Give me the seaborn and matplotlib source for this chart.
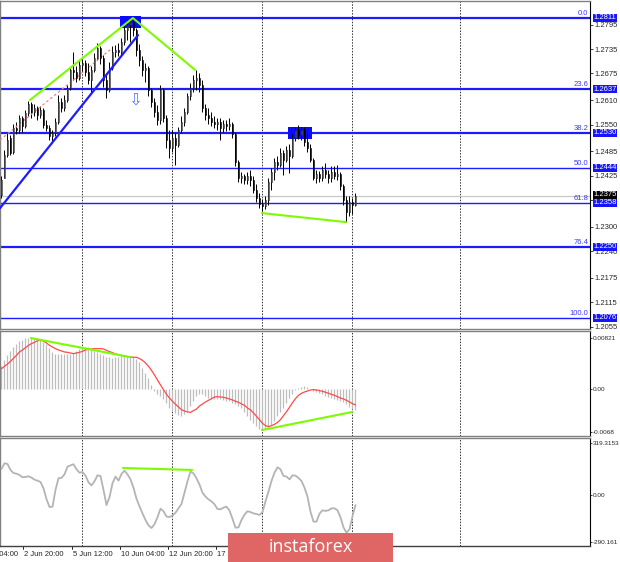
import numpy as np
import pandas as pd
import matplotlib
matplotlib.use('Agg')
import matplotlib.pyplot as plt
import matplotlib.transforms as transforms
from matplotlib.patches import Rectangle
import seaborn as sns

sns.set_style('white')
plt.rcParams['font.family'] = ['Liberation Sans', 'DejaVu Sans']

# H4 candles (29 May .. 29 Jun)
opens = [1.2377, 1.2419, 1.2475, 1.2517, 1.2483, 1.2541, 1.2537, 1.2566, 1.2546, 1.2578,
         1.2600, 1.2581, 1.2590, 1.2573, 1.2586, 1.2549, 1.2541, 1.2522, 1.2529, 1.2556,
         1.2605, 1.2590, 1.2610, 1.2639, 1.2684, 1.2679, 1.2664, 1.2696, 1.2701, 1.2679,
         1.2659, 1.2684, 1.2713, 1.2737, 1.2713, 1.2659, 1.2635, 1.2688, 1.2728, 1.2733,
         1.2728, 1.2752, 1.2782, 1.2794, 1.2801, 1.2782, 1.2733, 1.2708, 1.2684, 1.2688,
         1.2635, 1.2605, 1.2581, 1.2561, 1.2635, 1.2566, 1.2512, 1.2492, 1.2517, 1.2500,
         1.2537, 1.2556, 1.2581, 1.2620, 1.2639, 1.2659, 1.2664, 1.2647, 1.2590, 1.2573,
         1.2566, 1.2556, 1.2551, 1.2556, 1.2541, 1.2551, 1.2546, 1.2551, 1.2527, 1.2458,
         1.2419, 1.2424, 1.2414, 1.2424, 1.2414, 1.2390, 1.2370, 1.2355, 1.2350, 1.2365,
         1.2409, 1.2434, 1.2458, 1.2451, 1.2480, 1.2463, 1.2488, 1.2473, 1.2517, 1.2537,
         1.2524, 1.2537, 1.2507, 1.2492, 1.2463, 1.2419, 1.2429, 1.2419, 1.2439, 1.2429,
         1.2419, 1.2434, 1.2424, 1.2429, 1.2399, 1.2365, 1.2336, 1.2360, 1.2353]
highs = [1.2424, 1.2488, 1.2529, 1.2524, 1.2551, 1.2556, 1.2573, 1.2571, 1.2586, 1.2608,
         1.2605, 1.2600, 1.2595, 1.2595, 1.2590, 1.2561, 1.2549, 1.2537, 1.2566, 1.2622,
         1.2615, 1.2622, 1.2647, 1.2688, 1.2728, 1.2693, 1.2708, 1.2713, 1.2708, 1.2701,
         1.2693, 1.2725, 1.2750, 1.2742, 1.2720, 1.2671, 1.2703, 1.2742, 1.2745, 1.2750,
         1.2762, 1.2791, 1.2806, 1.2811, 1.2806, 1.2786, 1.2747, 1.2718, 1.2701, 1.2693,
         1.2639, 1.2615, 1.2598, 1.2647, 1.2639, 1.2573, 1.2537, 1.2537, 1.2529, 1.2544,
         1.2571, 1.2590, 1.2627, 1.2652, 1.2671, 1.2684, 1.2676, 1.2659, 1.2600, 1.2590,
         1.2581, 1.2571, 1.2566, 1.2566, 1.2561, 1.2561, 1.2566, 1.2556, 1.2532, 1.2463,
         1.2434, 1.2429, 1.2434, 1.2439, 1.2424, 1.2404, 1.2382, 1.2367, 1.2375, 1.2419,
         1.2443, 1.2468, 1.2473, 1.2492, 1.2488, 1.2497, 1.2502, 1.2527, 1.2544, 1.2549,
         1.2544, 1.2544, 1.2527, 1.2502, 1.2468, 1.2439, 1.2436, 1.2448, 1.2456, 1.2439,
         1.2448, 1.2448, 1.2451, 1.2434, 1.2404, 1.2375, 1.2375, 1.2370, 1.2382]
lows = [1.2370, 1.2419, 1.2470, 1.2475, 1.2478, 1.2527, 1.2529, 1.2532, 1.2541, 1.2571,
        1.2566, 1.2571, 1.2561, 1.2566, 1.2541, 1.2534, 1.2512, 1.2507, 1.2522, 1.2551,
        1.2581, 1.2583, 1.2605, 1.2635, 1.2659, 1.2654, 1.2659, 1.2679, 1.2669, 1.2649,
        1.2630, 1.2679, 1.2708, 1.2698, 1.2642, 1.2615, 1.2630, 1.2684, 1.2715, 1.2718,
        1.2720, 1.2745, 1.2757, 1.2752, 1.2767, 1.2718, 1.2693, 1.2669, 1.2654, 1.2620,
        1.2593, 1.2568, 1.2549, 1.2551, 1.2556, 1.2492, 1.2468, 1.2483, 1.2451, 1.2495,
        1.2529, 1.2546, 1.2576, 1.2610, 1.2630, 1.2635, 1.2630, 1.2581, 1.2561, 1.2551,
        1.2546, 1.2541, 1.2537, 1.2512, 1.2532, 1.2534, 1.2537, 1.2517, 1.2448, 1.2409,
        1.2407, 1.2404, 1.2404, 1.2399, 1.2382, 1.2360, 1.2345, 1.2338, 1.2343, 1.2353,
        1.2390, 1.2414, 1.2439, 1.2446, 1.2426, 1.2458, 1.2431, 1.2468, 1.2510, 1.2514,
        1.2512, 1.2497, 1.2483, 1.2458, 1.2414, 1.2407, 1.2409, 1.2412, 1.2419, 1.2407,
        1.2409, 1.2416, 1.2414, 1.2390, 1.2353, 1.2311, 1.2326, 1.2331, 1.2350]
closes = [1.2414, 1.2475, 1.2512, 1.2480, 1.2541, 1.2537, 1.2566, 1.2546, 1.2578, 1.2600,
          1.2581, 1.2590, 1.2573, 1.2586, 1.2549, 1.2541, 1.2522, 1.2529, 1.2556, 1.2605,
          1.2590, 1.2610, 1.2639, 1.2684, 1.2679, 1.2664, 1.2696, 1.2701, 1.2679, 1.2659,
          1.2684, 1.2713, 1.2737, 1.2713, 1.2659, 1.2635, 1.2688, 1.2728, 1.2733, 1.2728,
          1.2752, 1.2782, 1.2794, 1.2801, 1.2782, 1.2733, 1.2708, 1.2684, 1.2688, 1.2635,
          1.2605, 1.2581, 1.2561, 1.2635, 1.2566, 1.2512, 1.2492, 1.2517, 1.2500, 1.2537,
          1.2556, 1.2581, 1.2620, 1.2639, 1.2659, 1.2664, 1.2647, 1.2590, 1.2573, 1.2566,
          1.2556, 1.2551, 1.2556, 1.2541, 1.2551, 1.2546, 1.2551, 1.2527, 1.2458, 1.2419,
          1.2424, 1.2414, 1.2424, 1.2414, 1.2390, 1.2370, 1.2355, 1.2350, 1.2365, 1.2409,
          1.2434, 1.2458, 1.2451, 1.2480, 1.2463, 1.2488, 1.2473, 1.2517, 1.2537, 1.2524,
          1.2537, 1.2507, 1.2492, 1.2463, 1.2419, 1.2429, 1.2419, 1.2439, 1.2429, 1.2419,
          1.2434, 1.2424, 1.2429, 1.2399, 1.2365, 1.2336, 1.2360, 1.2353, 1.2375]

macd_hist = [0.00381, 0.00478, 0.00553, 0.00623, 0.00687, 0.00736, 0.00773, 0.00800, 0.00822, 0.00832,
             0.00832, 0.00827, 0.00811, 0.00795, 0.00757, 0.00725, 0.00671, 0.00596, 0.00564, 0.00564,
             0.00564, 0.00564, 0.00564, 0.00575, 0.00591, 0.00618, 0.00650, 0.00661, 0.00682, 0.00682,
             0.00650, 0.00623, 0.00596, 0.00575, 0.00553, 0.00526, 0.00516, 0.00510, 0.00516, 0.00521,
             0.00532, 0.00537, 0.00542, 0.00532, 0.00516, 0.00489, 0.00435, 0.00349, 0.00269, 0.00177,
             0.00070, -0.00021, -0.00070, -0.00107, -0.00156, -0.00226, -0.00295, -0.00349, -0.00387, -0.00413,
             -0.00424, -0.00403, -0.00349, -0.00269, -0.00188, -0.00113, -0.00070, -0.00081, -0.00113, -0.00140,
             -0.00156, -0.00161, -0.00156, -0.00156, -0.00166, -0.00183, -0.00193, -0.00215, -0.00242, -0.00274,
             -0.00306, -0.00360, -0.00424, -0.00489, -0.00542, -0.00596, -0.00634, -0.00655, -0.00644, -0.00618,
             -0.00575, -0.00510, -0.00435, -0.00360, -0.00295, -0.00220, -0.00145, -0.00070, -0.00005, 0.00027,
             0.00043, 0.00054, 0.00038, 0.00011, -0.00021, -0.00038, -0.00054, -0.00081, -0.00102, -0.00124,
             -0.00145, -0.00161, -0.00172, -0.00188, -0.00209, -0.00242, -0.00279, -0.00311, -0.00333]
macd_signal = [0.00333, 0.00371, 0.00408, 0.00451, 0.00499, 0.00548, 0.00601, 0.00634, 0.00671, 0.00709,
               0.00736, 0.00757, 0.00784, 0.00789, 0.00779, 0.00746, 0.00709, 0.00682, 0.00655, 0.00634,
               0.00618, 0.00601, 0.00596, 0.00585, 0.00575, 0.00585, 0.00596, 0.00612, 0.00634, 0.00644,
               0.00650, 0.00655, 0.00655, 0.00655, 0.00650, 0.00628, 0.00607, 0.00591, 0.00569, 0.00558,
               0.00542, 0.00537, 0.00526, 0.00521, 0.00516, 0.00516, 0.00494, 0.00467, 0.00424, 0.00371,
               0.00306, 0.00231, 0.00150, 0.00070, -0.00005, -0.00081, -0.00140, -0.00193, -0.00242, -0.00285,
               -0.00328, -0.00349, -0.00365, -0.00371, -0.00344, -0.00317, -0.00269, -0.00236, -0.00204, -0.00177,
               -0.00150, -0.00124, -0.00118, -0.00124, -0.00129, -0.00140, -0.00156, -0.00172, -0.00193, -0.00209,
               -0.00236, -0.00258, -0.00301, -0.00333, -0.00381, -0.00435, -0.00489, -0.00548, -0.00585, -0.00601,
               -0.00585, -0.00564, -0.00532, -0.00489, -0.00424, -0.00360, -0.00290, -0.00215, -0.00150, -0.00097,
               -0.00064, -0.00043, -0.00027, -0.00011, -0.00005, -0.00011, -0.00021, -0.00032, -0.00048, -0.00064,
               -0.00081, -0.00097, -0.00118, -0.00140, -0.00156, -0.00177, -0.00204, -0.00231, -0.00252]
cci = [160, 195, 191, 154, 135, 131, 123, 109, 111, 115,
       107, 94, 88, 80, 41, -25, -74, -72, 31, 103,
       105, 127, 174, 182, 189, 158, 137, 141, 119, 78,
       59, 84, 121, 117, 31, -62, -14, 72, 113, 88,
       129, 150, 127, 96, 45, -23, -70, -113, -154, -187,
       -203, -180, -137, -84, -100, -133, -135, -127, -109, -82,
       -55, 14, 84, 144, 133, 103, 64, 14, -10, -27,
       -39, -57, -86, -88, -78, -72, -96, -146, -201, -199,
       -154, -121, -100, -105, -113, -117, -123, -105, -39, 21,
       86, 137, 170, 158, 117, 113, 96, 121, 119, 105,
       86, 45, -10, -103, -164, -164, -115, -94, -98, -94,
       -82, -82, -94, -137, -199, -232, -211, -131, -62]

# Fibonacci grid and axis texts
fib_levels = ['0.0', '23.6', '38.2', '50.0', '61.8', '76.4', '100.0']
fib_prices = [1.2811, 1.2637, 1.2530, 1.2444, 1.2358, 1.2250, 1.2076]
fib_thick = [True, True, True, False, False, True, False]
last_price = 1.2375
price_ticks = [1.2795, 1.2735, 1.2675, 1.2610, 1.2550, 1.2485, 1.2425, 1.2365,
               1.2300, 1.2240, 1.2175, 1.2115, 1.2055]
hidden_ticks = [1.2365]  # label sits under the current-price box
macd_ticks = [0.00821, 0.0, -0.0068]
macd_tick_labels = ['0.00821', '0.00', '-0.0068']
cci_ticks = [319.3153, 0.0, -290.161]
cci_tick_labels = ['319.3153', '0.00', '-290.161']

separators = [26.8, 56.8, 86.8, 116.8, 152.8]
date_pos = [-10.0, 7.3, 23.5, 39.5, 55.5, 71.6]
date_labels = ['29 May 04:00', '2 Jun 20:00', '5 Jun 12:00', '10 Jun 04:00',
               '12 Jun 20:00', '17 Jun 12:00']

# drawn objects: (x0, y0, x1, y1) in candle index / value
blue_trend = [-0.5, 1.2345, 45.5, 1.2769]
red_channel = [-0.5, 1.2512, 36.2, 1.2733]
green_top_x = [9.5, 43.8, 64.5]
green_top_y = [1.2610, 1.2811, 1.2684]
green_low = [86.8, 1.2333, 114.8, 1.2311]
boxes = [(39.5, 46.5, 1.2786, 1.2816), (95.5, 103.5, 1.2514, 1.2544)]
arrow_at = (44.5, 1.2610)
macd_div = [[9.8, 0.00826, 42.8, 0.00520], [86.8, -0.00656, 116.8, -0.00366]]
cci_div = [40.5, 166, 63.5, 154]

df = pd.DataFrame({'open': opens, 'high': highs, 'low': lows, 'close': closes,
                   'hist': macd_hist, 'signal': macd_signal, 'cci': cci})
df['idx'] = np.arange(len(df))

BLUE = '#1c1cff'
GREEN = '#7cfc00'
XLIM = (-0.5, 196.17)

fig = plt.figure(figsize=(6.2, 5.62), dpi=100)
ax = fig.add_axes([0, 0.4146, 0.9516, 0.5836])
ax_m = fig.add_axes([0, 0.2242, 0.9516, 0.1868])
ax_c = fig.add_axes([0, 0.0285, 0.9516, 0.1922])

for a in (ax, ax_m, ax_c):
    a.set_xlim(*XLIM)
    a.set_xticks([])
    a.yaxis.tick_right()
    a.tick_params(axis='y', length=2, width=0.6, pad=1.5, labelsize=5.5, direction='out')
    for side in ('top', 'bottom', 'left'):
        a.spines[side].set_color('#808080')
        a.spines[side].set_linewidth(1.0)
    a.spines['right'].set_color('black')
    a.spines['right'].set_linewidth(0.8)
    for s in separators:
        a.axvline(s, color='#303030', ls=(0, (1.5, 1.5)), lw=0.7, zorder=1)

# ---- price panel
ax.set_ylim(1.2049, 1.28526)
ax.set_yticks(price_ticks)
ax.set_yticklabels(['' if v in hidden_ticks else f'{v:.4f}' for v in price_ticks])
ax.axhline(last_price, color='#c8c8c8', lw=0.9, zorder=1)
for lvl, p, thick in zip(fib_levels, fib_prices, fib_thick):
    ax.axhline(p, color=BLUE, lw=1.6 if thick else 1.0, zorder=2)
    ax.text(0.997, p + 0.0002, lvl, transform=transforms.blended_transform_factory(ax.transAxes, ax.transData),
            ha='right', va='bottom', fontsize=5.5, color='#3a3aff')

for x0, x1, y0, y1 in boxes:
    ax.add_patch(Rectangle((x0, y0), x1 - x0, y1 - y0, facecolor='#0a0aff', edgecolor='none', zorder=2))

up = df['close'] >= df['open']
ax.vlines(df['idx'], df['low'], df['high'], color='black', lw=0.7, zorder=3)
ax.bar(df['idx'], (df['close'] - df['open']).abs().clip(lower=0.00008),
       bottom=df[['open', 'close']].min(axis=1), width=0.6,
       color=np.where(up, 'white', 'black'), edgecolor='black', linewidth=0.4, zorder=4)

ax.plot(red_channel[0::2], red_channel[1::2], color='#f08080', ls=(0, (2, 2)), lw=0.9, zorder=3)
ax.plot(blue_trend[0::2], blue_trend[1::2], color=BLUE, lw=1.6, zorder=5)
ax.plot(green_top_x, green_top_y, color=GREEN, lw=1.5, zorder=6)
ax.plot(green_low[0::2], green_low[1::2], color=GREEN, lw=1.5, zorder=6)
ax.text(arrow_at[0], arrow_at[1], '\u21e9', color='#5a7cff', fontsize=12, ha='center', va='center',
        family='DejaVu Sans', zorder=6)

trans_r = transforms.blended_transform_factory(ax.transAxes, ax.transData)
for p in fib_prices:
    ax.text(1.006, p, f'{p:.4f}', transform=trans_r, ha='left', va='center', fontsize=5.5,
            color='white', clip_on=False, zorder=10,
            bbox=dict(boxstyle='square,pad=0.06', facecolor='#1414ff', edgecolor='none'))
ax.text(1.006, last_price + 0.0003, f'{last_price:.4f}', transform=trans_r, ha='left', va='center',
        fontsize=5.5, color='white', clip_on=False, zorder=11,
        bbox=dict(boxstyle='square,pad=0.06', facecolor='black', edgecolor='none'))

# ---- MACD panel
ax_m.set_ylim(-0.00752, 0.00939)
ax_m.set_yticks(macd_ticks)
ax_m.set_yticklabels(macd_tick_labels)
ax_m.vlines(df['idx'], 0, df['hist'], color='#bdbdbd', lw=0.9, zorder=2)
sns.lineplot(x=df['idx'], y=df['signal'], ax=ax_m, color='#ff4a4a', lw=0.9, zorder=3)
for x0, y0, x1, y1 in macd_div:
    ax_m.plot([x0, x1], [y0, y1], color=GREEN, lw=1.5, zorder=4)
ax_m.set_xlabel('')
ax_m.set_ylabel('')

# ---- CCI panel
ax_c.set_ylim(-313.6, 350.6)
ax_c.set_yticks(cci_ticks)
ax_c.set_yticklabels(cci_tick_labels)
sns.lineplot(x=df['idx'], y=df['cci'], ax=ax_c, color='#b4b4b4', lw=1.3, zorder=3)
ax_c.plot(cci_div[0::2], cci_div[1::2], color=GREEN, lw=1.5, zorder=4)
ax_c.set_xlabel('')
ax_c.set_ylabel('')
ax_c.spines['bottom'].set_color('#404040')

for a in (ax_m, ax_c):
    a.tick_params(axis='y', labelsize=4.6, pad=0.8, length=1.5)

trans_b = transforms.blended_transform_factory(ax_c.transData, ax_c.transAxes)
for pos, lab in zip(date_pos, date_labels):
    ax_c.plot([pos, pos], [0, -0.03], color='black', lw=0.6, transform=trans_b, clip_on=False)
    ax_c.text(pos + 0.3, -0.045, lab, transform=trans_b, ha='left', va='top', fontsize=5.5, clip_on=False)

# watermark
fig.add_artist(Rectangle((228 / 620, 0), 165 / 620, 29 / 562, transform=fig.transFigure,
                         facecolor='#e06666', edgecolor='none', zorder=20))
fig.text(311 / 620, 1 - 547 / 562, 'instaforex', color='white', fontsize=13, ha='center', va='center',
         family=['Open Sans', 'DejaVu Sans'], zorder=21)

fig.savefig('out.png', dpi=100)
